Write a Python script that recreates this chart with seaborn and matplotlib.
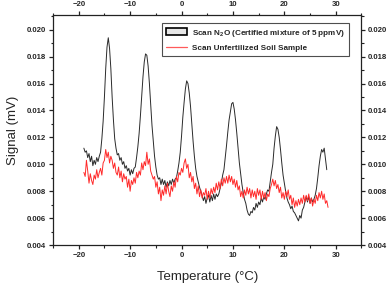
import numpy as np
import pandas as pd
import matplotlib
matplotlib.use("Agg")
import matplotlib.pyplot as plt
import seaborn as sns
from matplotlib.patches import Patch
from matplotlib.lines import Line2D
from matplotlib.ticker import MultipleLocator, FormatStrFormatter

# ---------------- data ----------------
T_START = -19.0
T_STEP = 0.25

# N2O certified mixture scan (mV), sampled every 0.25 degC from -19
n2o_signal = [
    0.0112, 0.0109, 0.0110, 0.0105,   # -19
    0.0108, 0.0102, 0.0106, 0.0099,   # -18
    0.0103, 0.0100, 0.0105, 0.0102,   # -17
    0.0106, 0.0109, 0.0119, 0.0132,   # -16
    0.0150, 0.0171, 0.0187, 0.0194,   # -15
    0.0186, 0.0171, 0.0150, 0.0133,   # -14
    0.0119, 0.0112, 0.0107, 0.0108,   # -13
    0.0103, 0.0105, 0.0100, 0.0102,   # -12
    0.0097, 0.0099, 0.0095, 0.0097,   # -11
    0.0092, 0.0096, 0.0093, 0.0097,   # -10
    0.0098, 0.0105, 0.0113, 0.0123,   # -9
    0.0136, 0.0151, 0.0165, 0.0176,   # -8
    0.0182, 0.0181, 0.0173, 0.0160,   # -7
    0.0145, 0.0129, 0.0117, 0.0106,   # -6
    0.0098, 0.0092, 0.0089, 0.0090,   # -5
    0.0085, 0.0089, 0.0085, 0.0088,   # -4
    0.0083, 0.0087, 0.0084, 0.0088,   # -3
    0.0085, 0.0089, 0.0086, 0.0089,   # -2
    0.0090, 0.0095, 0.0101, 0.0109,   # -1
    0.0121, 0.0135, 0.0146, 0.0156,   # 0
    0.0162, 0.0160, 0.0153, 0.0143,   # 1
    0.0130, 0.0117, 0.0106, 0.0097,   # 2
    0.0091, 0.0087, 0.0083, 0.0080,   # 3
    0.0077, 0.0073, 0.0076, 0.0071,   # 4
    0.0075, 0.0077, 0.0072, 0.0077,   # 5
    0.0073, 0.0078, 0.0074, 0.0078,   # 6
    0.0076, 0.0078, 0.0082, 0.0086,   # 7
    0.0092, 0.0096, 0.0105, 0.0114,   # 8
    0.0124, 0.0133, 0.0139, 0.0145,   # 9
    0.0146, 0.0141, 0.0133, 0.0123,   # 10
    0.0112, 0.0101, 0.0093, 0.0085,   # 11
    0.0079, 0.0074, 0.0071, 0.0066,   # 12
    0.0063, 0.0062, 0.0065, 0.0064,   # 13
    0.0068, 0.0066, 0.0071, 0.0068,   # 14
    0.0072, 0.0070, 0.0075, 0.0072,   # 15
    0.0076, 0.0074, 0.0078, 0.0081,   # 16
    0.0080, 0.0087, 0.0094, 0.0100,   # 17
    0.0112, 0.0121, 0.0128, 0.0126,   # 18
    0.0120, 0.0111, 0.0101, 0.0092,   # 19
    0.0086, 0.0080, 0.0075, 0.0072,   # 20
    0.0070, 0.0067, 0.0069, 0.0065,   # 21
    0.0064, 0.0062, 0.0060, 0.0058,   # 22
    0.0062, 0.0060, 0.0066, 0.0068,   # 23
    0.0072, 0.0076, 0.0072, 0.0076,   # 24
    0.0071, 0.0075, 0.0072, 0.0074,   # 25
    0.0077, 0.0082, 0.0090, 0.0099,   # 26
    0.0106, 0.0111, 0.0109, 0.0112,   # 27
    0.0104, 0.0096,                   # 28
]

# Unfertilized soil sample scan (mV), sampled every 0.25 degC from -19
soil_signal = [
    0.0094, 0.0091, 0.0103, 0.0095,   # -19
    0.0086, 0.0093, 0.0088, 0.0085,   # -18
    0.0092, 0.0089, 0.0096, 0.0090,   # -17
    0.0094, 0.0097, 0.0092, 0.0101,   # -16
    0.0103, 0.0111, 0.0105, 0.0109,   # -15
    0.0101, 0.0106, 0.0103, 0.0097,   # -14
    0.0101, 0.0094, 0.0092, 0.0098,   # -13
    0.0090, 0.0095, 0.0087, 0.0093,   # -12
    0.0089, 0.0091, 0.0083, 0.0089,   # -11
    0.0080, 0.0088, 0.0085, 0.0090,   # -10
    0.0086, 0.0094, 0.0090, 0.0095,   # -9
    0.0092, 0.0101, 0.0096, 0.0102,   # -8
    0.0099, 0.0109, 0.0100, 0.0104,   # -7
    0.0095, 0.0092, 0.0089, 0.0091,   # -6
    0.0083, 0.0087, 0.0078, 0.0083,   # -5
    0.0073, 0.0081, 0.0077, 0.0084,   # -4
    0.0078, 0.0086, 0.0080, 0.0076,   # -3
    0.0084, 0.0080, 0.0087, 0.0083,   # -2
    0.0091, 0.0087, 0.0094, 0.0092,   # -1
    0.0097, 0.0094, 0.0101, 0.0104,   # 0
    0.0097, 0.0100, 0.0090, 0.0094,   # 1
    0.0087, 0.0091, 0.0082, 0.0086,   # 2
    0.0078, 0.0084, 0.0076, 0.0081,   # 3
    0.0075, 0.0079, 0.0077, 0.0082,   # 4
    0.0074, 0.0080, 0.0075, 0.0082,   # 5
    0.0078, 0.0083, 0.0079, 0.0086,   # 6
    0.0081, 0.0087, 0.0082, 0.0089,   # 7
    0.0084, 0.0090, 0.0086, 0.0091,   # 8
    0.0086, 0.0092, 0.0087, 0.0091,   # 9
    0.0085, 0.0089, 0.0083, 0.0088,   # 10
    0.0081, 0.0084, 0.0076, 0.0080,   # 11
    0.0075, 0.0081, 0.0077, 0.0083,   # 12
    0.0078, 0.0082, 0.0075, 0.0081,   # 13
    0.0076, 0.0080, 0.0074, 0.0082,   # 14
    0.0077, 0.0081, 0.0074, 0.0080,   # 15
    0.0075, 0.0079, 0.0073, 0.0078,   # 16
    0.0076, 0.0082, 0.0085, 0.0089,   # 17
    0.0084, 0.0088, 0.0082, 0.0085,   # 18
    0.0079, 0.0083, 0.0075, 0.0079,   # 19
    0.0074, 0.0080, 0.0076, 0.0081,   # 20
    0.0074, 0.0077, 0.0070, 0.0075,   # 21
    0.0068, 0.0073, 0.0069, 0.0074,   # 22
    0.0070, 0.0075, 0.0071, 0.0077,   # 23
    0.0072, 0.0077, 0.0073, 0.0078,   # 24
    0.0071, 0.0075, 0.0069, 0.0074,   # 25
    0.0071, 0.0077, 0.0073, 0.0079,   # 26
    0.0075, 0.0080, 0.0074, 0.0078,   # 27
    0.0071, 0.0073, 0.0068,           # 28
]

label_n2o = r"Scan N$_{\mathbf{2}}$O (Certified mixture of 5 ppmV)"
label_soil = "Scan Unfertilized Soil Sample"

x_ticks = [-20, -10, 0, 10, 20, 30]
y_ticks = [0.004, 0.006, 0.008, 0.010, 0.012, 0.014, 0.016, 0.018, 0.020]

# ---------------- build table ----------------
t_n2o = T_START + T_STEP * np.arange(len(n2o_signal))
t_soil = T_START + T_STEP * np.arange(len(soil_signal))
df = pd.concat([
    pd.DataFrame({"Temperature": t_n2o, "Signal": n2o_signal, "Scan": "n2o"}),
    pd.DataFrame({"Temperature": t_soil, "Signal": soil_signal, "Scan": "soil"}),
], ignore_index=True)

# ---------------- style ----------------
sns.set_style("ticks")
plt.rcParams["font.family"] = ["Liberation Sans", "DejaVu Sans"]
plt.rcParams["mathtext.fontset"] = "custom"
plt.rcParams["mathtext.rm"] = "Liberation Sans"
plt.rcParams["mathtext.bf"] = "Liberation Sans:bold"

fig = plt.figure(figsize=(3.87, 2.86), dpi=100)
ax = fig.add_axes([0.137, 0.143, 0.797, 0.805])

sns.lineplot(data=df, x="Temperature", y="Signal", hue="Scan",
             palette={"n2o": "#2a2a2a", "soil": "#ff2a2a"},
             hue_order=["n2o", "soil"], linewidth=0.7, ax=ax,
             legend=False, estimator=None, sort=False)

ax.set_xlim(-25, 35)
ax.set_ylim(0.004, 0.0211)
ax.set_xticks(x_ticks)
ax.set_yticks(y_ticks)
ax.xaxis.set_minor_locator(MultipleLocator(5))
ax.yaxis.set_minor_locator(MultipleLocator(0.001))
ax.yaxis.set_major_formatter(FormatStrFormatter("%.3f"))

ax.tick_params(which="both", direction="out", top=True, right=True,
               labeltop=True, labelright=True, color="#222222")
ax.tick_params(which="major", length=3, width=0.9, labelsize=5.6, pad=1.8)
ax.tick_params(which="minor", length=1.8, width=0.8)
for lab in ax.get_xticklabels(which="both") + ax.get_yticklabels(which="both"):
    lab.set_fontweight("bold")
for sp in ax.spines.values():
    sp.set_visible(True)
    sp.set_linewidth(0.9)
    sp.set_color("#222222")

ax.set_xlabel("Temperature (\u00b0C)", fontsize=9.5, labelpad=9)
ax.set_ylabel("Signal (mV)", fontsize=9.5, labelpad=6)

handles = [
    Patch(facecolor="#e6e6e6", edgecolor="black", linewidth=1.2),
    Line2D([0], [0], color="#ff5a5a", linewidth=0.9),
]
leg = ax.legend(handles, [label_n2o, label_soil], loc="upper right",
                bbox_to_anchor=(0.965, 0.97), frameon=True, fancybox=False,
                prop={"size": 5.9, "weight": "bold"}, handlelength=2.6,
                handleheight=0.9, borderpad=0.5, labelspacing=0.6,
                handletextpad=0.6, borderaxespad=0.2)
leg.get_frame().set_edgecolor("#222222")
leg.get_frame().set_linewidth(0.8)

fig.savefig("out.png", dpi=100)
